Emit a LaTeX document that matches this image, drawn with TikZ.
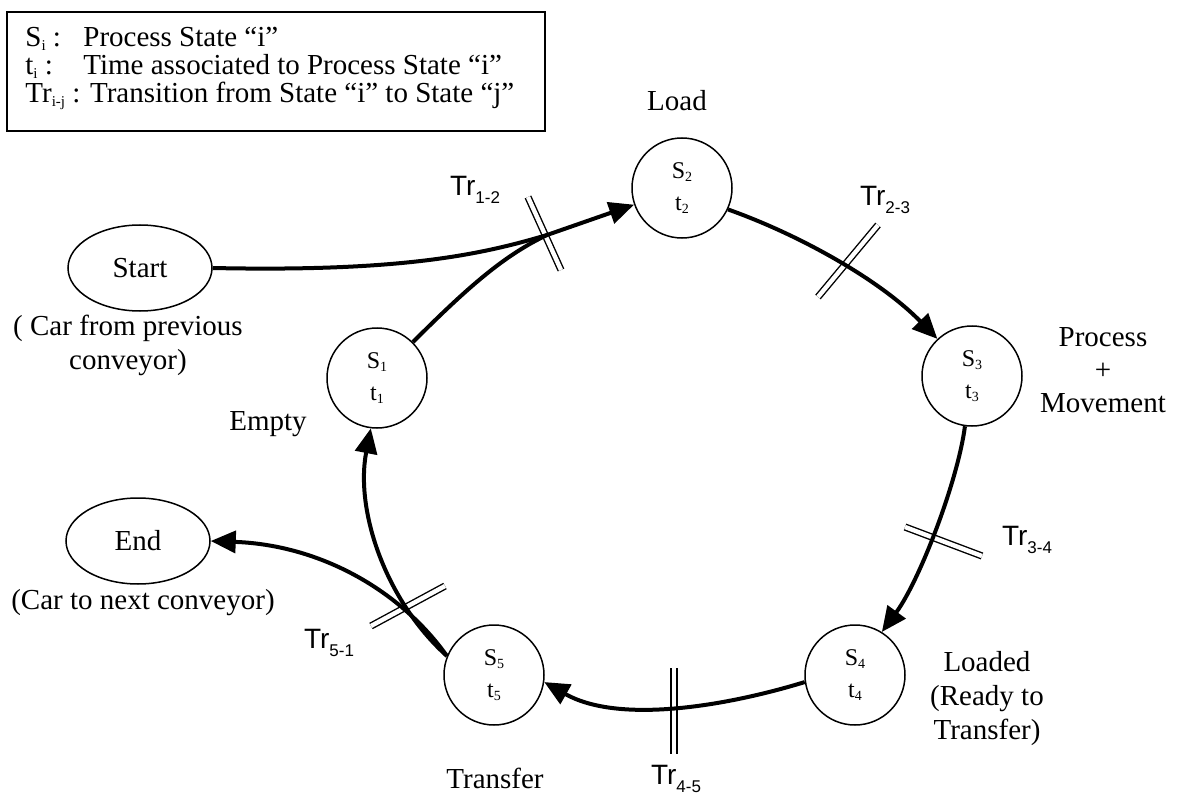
\documentclass[tikz,border=0pt]{standalone}
\usepackage{fontspec}
\setmainfont{Liberation Serif}
\setsansfont{Liberation Sans}
\usetikzlibrary{arrows.meta,shapes.geometric}
\newcommand{\lsub}[1]{\raisebox{-0.3ex}{\fontsize{7.5}{7.5}\selectfont #1}}
\newcommand{\csub}[1]{\raisebox{-0.3ex}{\fontsize{7}{7}\selectfont #1}}
\newcommand{\tsub}[1]{\raisebox{-0.5ex}{\fontsize{8.5}{8.5}\selectfont #1}}
\begin{document}
\begin{tikzpicture}[x=0.5pt,y=-0.5pt,
  state/.style={circle, draw, line width=0.75pt, minimum size=50pt, inner sep=0pt, align=center, font=\fontsize{12}{16}\selectfont},
  term/.style={ellipse, draw, line width=0.75pt, minimum width=72pt, minimum height=43pt, inner sep=0pt, font=\fontsize{14.5}{17}\selectfont},
  lbl/.style={font=\fontsize{14.5}{17}\selectfont, align=center, inner sep=0pt},
  trl/.style={font=\sffamily\fontsize{14}{16}\selectfont, inner sep=0pt},
  flow/.style={line width=2pt, -{Triangle[length=12.5pt,width=11pt]}},
  flowline/.style={line width=2pt},
  tick/.style={double, double distance=2.2pt, line width=0.7pt},
  legtext/.style={font=\fontsize{14.5}{14}\selectfont, align=left, inner sep=0pt}]
\useasboundingbox (0,0) rectangle (1179,797);
\fill[white] (0,0) rectangle (1179,797);

% legend
\node[draw, line width=0.9pt, minimum width=269pt, minimum height=59.5pt, inner sep=0pt] (legend) at (276,71.5) {};
\node[legtext, anchor=west] (legtxt) at (25,68) {\makebox[29pt][l]{S\lsub{i} :}Process State “i”\\
\makebox[29pt][l]{t\lsub{i} :}Time associated to Process State “i”\\
Tr\lsub{i-j} : Transition from State “i” to State “j”};

% states
\node[state] (S1) at (377,378) {S\csub{1}\\t\csub{1}};
\node[state] (S2) at (682,188) {S\csub{2}\\t\csub{2}};
\node[state] (S3) at (972,376) {S\csub{3}\\t\csub{3}};
\node[state] (S4) at (855,675) {S\csub{4}\\t\csub{4}};
\node[state] (S5) at (494,675) {S\csub{5}\\t\csub{5}};
\node[term] (start) at (140,268) {Start};
\node[term] (end) at (138,541) {End};

% labels
\node[lbl] (load) at (677,101) {Load};
\node[lbl, font=\fontsize{14.5}{16.5}\selectfont] (procmov) at (1103,370) {Process\\+\\Movement};
\node[lbl] (loaded) at (987,699) {Loaded\\(Ready to\\Transfer)};
\node[lbl] (transfer) at (495,778) {Transfer};
\node[lbl] (empty) at (268,424) {Empty};
\node[lbl, font=\fontsize{14.5}{17}\selectfont] (startnote) at (128,345) {( Car from previous\\conveyor)};
\node[lbl] (endnote) at (143,603) {(Car to next conveyor)};

\node[trl] (tr12) at (475,190) {Tr\tsub{1-2}};
\node[trl] (tr23) at (885,200) {Tr\tsub{2-3}};
\node[trl] (tr34) at (1027,540) {Tr\tsub{3-4}};
\node[trl] (tr45) at (676,779) {Tr\tsub{4-5}};
\node[trl] (tr51) at (329,643) {Tr\tsub{5-1}};

% transition bars
\coordinate (k12a) at (528,197); \coordinate (k12b) at (561,270);
\coordinate (k23a) at (878,225); \coordinate (k23b) at (818,297);
\coordinate (k34a) at (905,527); \coordinate (k34b) at (982,556);
\coordinate (k45a) at (674,668); \coordinate (k45b) at (674,754);
\coordinate (k51a) at (371,626); \coordinate (k51b) at (445,586);
\draw[tick] (k12a) -- (k12b);
\draw[tick] (k23a) -- (k23b);
\draw[tick] (k34a) -- (k34b);
\draw[tick] (k45a) -- (k45b);
\draw[tick] (k51a) -- (k51b);

% connectors
\coordinate (m12) at (547,235);
\draw[flowline] (S1.45) .. controls (470,285) and (505,255) .. (m12);
\draw[flow] (start.east) .. controls (400,272) and (480,255) .. (m12) -- (S2);
\draw[flow] (S2.-25) .. controls (800,235) and (880,280) .. (S3.133);
\draw[flow] (S3.-98) .. controls (958,480) and (920,580) .. (S4.58);
\draw[flow] (S4.188) .. controls (730,705) and (620,725) .. (S5.-8);
\draw[flow] (S5.158) .. controls (385,600) and (355,510) .. (S1.263);
\draw[flow] (S5.158) .. controls (400,590) and (320,545) .. (end.east);
\end{tikzpicture}
\end{document}
